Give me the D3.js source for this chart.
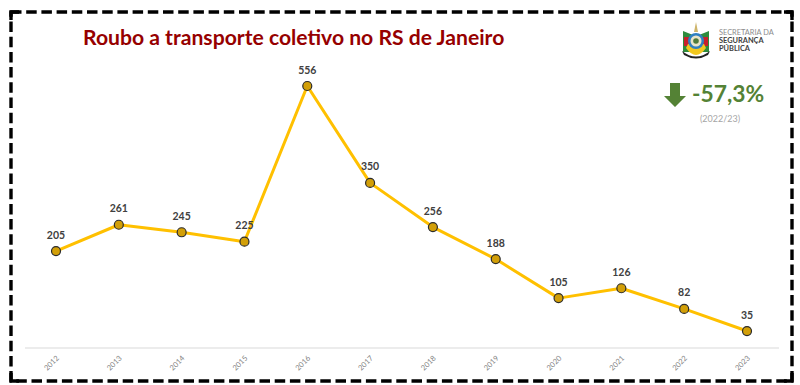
<!DOCTYPE html>
<html><head><meta charset="utf-8">
<script src="https://cdn.jsdelivr.net/npm/d3@7"></script>
<style>html,body{margin:0;padding:0;background:#fff}svg{display:block}text{font-family:Lato,"Open Sans",sans-serif}</style>
</head><body><svg id="c" width="800" height="385"></svg>
<script>
const years=["2012","2013","2014","2015","2016","2017","2018","2019","2020","2021","2022","2023"];
const values=[205,261,245,225,556,350,256,188,105,126,82,35];
const titleText="Roubo a transporte coletivo no RS de Janeiro";
const deltaText="-57,3%";
const periodText="(2022/23)";
const logoLines=["SECRETARIA DA","SEGURANÇA","PÚBLICA"];

const svg=d3.select("#c");
const x=d3.scalePoint().domain(years).range([56,747]);
const y=d3.scaleLinear().domain([0,556]).range([347.5,86]);

// dashed frame with solid rounded corners
svg.append("rect").attr("x",11).attr("y",12).attr("width",781).attr("height",369)
  .attr("fill","none").attr("stroke","#000").attr("stroke-width",3.4).attr("stroke-dasharray","10.5 4.7");
svg.append("path")
  .attr("d","M11,20V12H19M784,12H792V20M792,373V381H784M19,381H11V373")
  .attr("fill","none").attr("stroke","#000").attr("stroke-width",3.4).attr("stroke-linejoin","round");

// axis
const axis=svg.append("g").attr("class","xaxis").attr("transform","translate(0,348)")
  .call(d3.axisBottom(x).tickSize(0).tickPadding(0));
axis.select(".domain").attr("d","M25,0H779").attr("stroke","#d9d9d9").attr("stroke-width",1);
axis.selectAll(".tick text").attr("y",0).attr("dy","0.35em")
  .attr("transform","translate(-5,15) rotate(-45)")
  .attr("text-anchor","middle").attr("font-size",7.5).attr("fill","#7f7f7f")
  .style("font-family","Lato");

// line
const pts=years.map((d,i)=>({year:d,value:values[i]}));
svg.append("path").datum(pts).attr("fill","none").attr("stroke","#ffc000").attr("stroke-width",3)
  .attr("stroke-linejoin","round")
  .attr("d",d3.line().x(d=>x(d.year)).y(d=>y(d.value)));
svg.selectAll("circle.pt").data(pts).join("circle").attr("class","pt")
  .attr("cx",d=>x(d.year)).attr("cy",d=>y(d.value)).attr("r",4.5)
  .attr("fill","#d29f08").attr("stroke","#2b2b2b").attr("stroke-width",1.2);
svg.selectAll("text.lab").data(pts).join("text").attr("class","lab")
  .attr("x",d=>x(d.year)).attr("y",d=>y(d.value)-12.5).attr("text-anchor","middle")
  .attr("font-size",10.5).attr("font-weight",700).attr("fill","#404040").text(d=>d.value);

// title
svg.append("text").attr("x",83).attr("y",44.5).attr("font-size",21.15).attr("font-weight",700)
  .attr("fill","#960000").text(titleText);

// callout
svg.append("path").attr("d","M670,83H680V96H686L675,107L664,96H670Z").attr("fill","#548235");
svg.append("text").attr("x",692).attr("y",102).attr("font-size",22.8).attr("font-weight",700)
  .attr("fill","#548235").text(deltaText);
svg.append("text").attr("x",720).attr("y",122).attr("text-anchor","middle").attr("font-size",9)
  .attr("fill","#a6a6a6").text(periodText);

// crest (simplified emblem)
const crest=svg.append("g");
crest.append("path").attr("d","M683,31L693,35V52H683Z").attr("fill","#2e8b3d");
crest.append("path").attr("d","M709,31L699,35V52H709Z").attr("fill","#2e8b3d");
crest.append("path").attr("d","M684,37L692,37V46H684Z").attr("fill","#c8202a");
crest.append("path").attr("d","M708,37L700,37V46H708Z").attr("fill","#c8202a");
crest.append("path").attr("d","M686,48Q696,62 706,48L704,44H688Z").attr("fill","#f2c81e");
crest.append("path").attr("d","M682,51Q696,62 710,51L708,55Q696,62 684,55Z").attr("fill","#222");
crest.append("circle").attr("cx",696).attr("cy",41).attr("r",8).attr("fill","#2f7fc1");
crest.append("circle").attr("cx",696).attr("cy",41).attr("r",5.5).attr("fill","#e8e4c8");
crest.append("circle").attr("cx",696).attr("cy",41).attr("r",2.8).attr("fill","#4f7a3a");
crest.append("path").attr("d","M696,22L698,32H694Z").attr("fill","#cdb46a");

const lg=svg.append("g");
lg.selectAll("text").data(logoLines).join("text").attr("x",719).attr("y",(d,i)=>35+i*8.2)
  .attr("font-size",7.4).attr("font-weight",(d,i)=>i?700:400).attr("fill",(d,i)=>i?"#404040":"#8c8c8c").text(d=>d);
</script></body></html>
